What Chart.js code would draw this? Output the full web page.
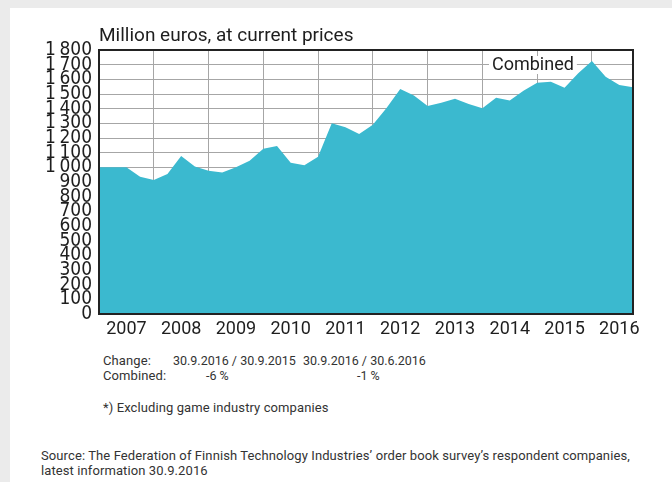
<!DOCTYPE html>
<html>
<head>
<meta charset="utf-8">
<script src="https://cdn.jsdelivr.net/npm/chart.js@4.4.1/dist/chart.umd.min.js"></script>
<style>
  html, body { margin: 0; padding: 0; width: 672px; height: 482px; background: #ebebeb; overflow: hidden; }
  #panel { position: absolute; left: 10px; top: 8px; right: 0; bottom: 0; background: #ffffff; }
  #wrap { position: absolute; left: 0; top: 0; width: 672px; height: 345px; }
  .t { position: absolute; font-family: Roboto, "Liberation Sans", sans-serif; font-size: 13px; letter-spacing: 0.1px; line-height: 15px; color: #333; white-space: nowrap; }
  .d { font-size: 12.5px; letter-spacing: 0; }
</style>
</head>
<body>
<div id="panel"></div>
<div id="wrap"><canvas id="c" width="672" height="345"></canvas></div>
<div class="t" style="left:103px;top:353px">Change:</div>
<div class="t d" style="left:173px;top:353px">30.9.2016 / 30.9.2015</div>
<div class="t d" style="left:303px;top:353px">30.9.2016 / 30.6.2016</div>
<div class="t" style="left:103px;top:368px">Combined:</div>
<div class="t d" style="left:206px;top:368px">-6 %</div>
<div class="t d" style="left:357px;top:368px">-1 %</div>
<div class="t" style="left:103px;top:400px">*) Excluding game industry companies</div>
<div class="t" style="left:41px;top:448px">Source: The Federation of Finnish Technology Industries’ order book survey’s respondent companies,</div>
<div class="t" style="left:41px;top:463px">latest information 30.9.2016</div>
<script>
// Quarter-end dates (categories)
const quarters = [
  'Q4 2006',
  'Q1 2007','Q2 2007','Q3 2007','Q4 2007',
  'Q1 2008','Q2 2008','Q3 2008','Q4 2008',
  'Q1 2009','Q2 2009','Q3 2009','Q4 2009',
  'Q1 2010','Q2 2010','Q3 2010','Q4 2010',
  'Q1 2011','Q2 2011','Q3 2011','Q4 2011',
  'Q1 2012','Q2 2012','Q3 2012','Q4 2012',
  'Q1 2013','Q2 2013','Q3 2013','Q4 2013',
  'Q1 2014','Q2 2014','Q3 2014','Q4 2014',
  'Q1 2015','Q2 2015','Q3 2015','Q4 2015',
  'Q1 2016','Q2 2016','Q3 2016'
];
// Order book, combined (million euros)
const combined = [
  1000,
  1000, 1000, 936, 914,
  955, 1077, 1005, 977,
  964, 1000, 1045, 1127,
  1145, 1032, 1014, 1073,
  1300, 1273, 1227, 1291,
  1405, 1534, 1489, 1418,
  1441, 1468, 1432, 1402,
  1475, 1455, 1523, 1577,
  1584, 1543, 1641, 1725,
  1618, 1561, 1546
];
const yearLabels = ['2007','2008','2009','2010','2011','2012','2013','2014','2015','2016'];
const titleText = 'Million euros, at current prices';
const seriesName = 'Combined';

const frame = {
  id: 'frame',
  afterDraw(chart) {
    const {ctx, chartArea: a} = chart;
    ctx.save();
    // series label
    ctx.font = '18px Roboto';
    const w = ctx.measureText(seriesName).width;
    const lx = 492, ly = 70;
    ctx.fillStyle = '#ffffff';
    ctx.fillRect(lx - 3, 56, w + 6, 18);
    ctx.fillStyle = '#1e1e1e';
    ctx.textBaseline = 'alphabetic';
    ctx.fillText(seriesName, lx, ly);
    // frame
    ctx.strokeStyle = '#222';
    ctx.lineWidth = 2;
    ctx.strokeRect(a.left, a.top, a.right - a.left, a.bottom - a.top);
    // title
    ctx.font = '19px Roboto';
    ctx.fillStyle = '#1e1e1e';
    ctx.fillText(titleText, a.left, 41);
    ctx.restore();
  }
};

new Chart(document.getElementById('c'), {
  type: 'line',
  data: {
    labels: quarters,
    datasets: [{
      label: seriesName,
      data: combined,
      fill: 'origin',
      backgroundColor: '#3bb9cf',
      borderWidth: 0,
      borderColor: 'rgba(0,0,0,0)',
      pointRadius: 0,
      tension: 0
    }]
  },
  options: {
    responsive: false,
    animation: false,
    layout: { padding: { top: 50, right: 39, left: 0, bottom: 0 } },
    plugins: { legend: { display: false }, tooltip: { enabled: false }, title: { display: false } },
    scales: {
      x: {
        type: 'category',
        offset: false,
        z: 1,
        afterFit(s) { s.height = 31; },
        border: { display: false },
        grid: {
          drawTicks: false,
          lineWidth: 1,
          color: (c) => (c.index % 4 === 0 && c.index > 0) ? '#a6a6a6' : 'rgba(0,0,0,0)'
        },
        ticks: {
          autoSkip: false,
          maxRotation: 0,
          minRotation: 0,
          padding: 5,
          color: '#1e1e1e',
          font: { family: 'Roboto', size: 18 },
          callback: (v, i) => (i % 4 === 2) ? yearLabels[(i - 2) / 4] : ''
        }
      },
      y: {
        min: 0,
        max: 1800,
        z: 1,
        afterFit(s) { s.width = 99; },
        border: { display: false },
        grid: {
          drawTicks: false,
          lineWidth: 1,
          color: (c) => (c.tick.value > 0 && c.tick.value < 1800) ? '#a6a6a6' : 'rgba(0,0,0,0)'
        },
        ticks: {
          stepSize: 100,
          autoSkip: false,
          padding: 7,
          color: '#1e1e1e',
          font: { family: '"DejaVu Sans Condensed", sans-serif', size: 19, lineHeight: 1 },
          callback: (v) => v >= 1000 ? Math.floor(v / 1000) + '\u2009' + String(v % 1000).padStart(3, '0') : String(v)
        }
      }
    }
  },
  plugins: [frame]
});
</script>
</body>
</html>
